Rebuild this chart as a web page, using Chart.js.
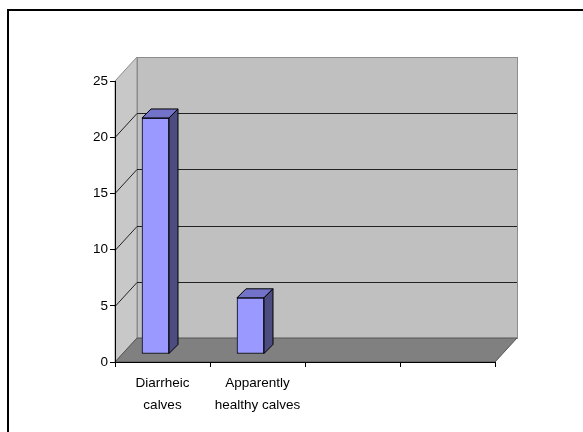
<!DOCTYPE html>
<html>
<head>
<meta charset="utf-8">
<script src="https://cdn.jsdelivr.net/npm/chart.js@4"></script>
<style>
  body { margin: 0; background: #fff; }
  #wrap { width: 583px; height: 432px; }
</style>
</head>
<body>
<div id="wrap"><canvas id="calves"></canvas></div>
<script>
var categories = [['Diarrheic', 'calves'], ['Apparently', 'healthy calves'], '', ''];
var counts = [21, 5, null, null];
var yTicks = [0, 5, 10, 15, 20, 25];

// depth of the box (back wall offset) and of each bar
var DEPTH_X = 22, DEPTH_Y = -24;
var BAR_DX = -7, BAR_DY = -8;
var BAR_DEPTH = 9;

var labelFont = { family: 'Liberation Sans', size: 13.5, lineHeight: 1.63 };

var box3d = {
  id: 'box3d',
  beforeDraw: function (chart) {
    var c = chart.ctx, x = chart.scales.x, y = chart.scales.y;
    var L = x.left, R = x.right;
    var y0 = y.getPixelForValue(0), yTop = y.getPixelForValue(25);
    c.save();
    c.fillStyle = '#fff';
    c.fillRect(0, 0, chart.width, chart.height);
    // outer frame
    c.strokeStyle = '#000';
    c.lineWidth = 2;
    c.beginPath();
    c.moveTo(8, chart.height);
    c.lineTo(8, 10);
    c.lineTo(chart.width, 10);
    c.stroke();

    // back wall
    c.fillStyle = '#c0c0c0';
    c.fillRect(L + DEPTH_X, yTop + DEPTH_Y, R - L, y0 - yTop);
    c.strokeStyle = '#8c8c8c';
    c.lineWidth = 1;
    c.strokeRect(L + DEPTH_X + 0.5, yTop + DEPTH_Y + 0.5, R - L, y0 - yTop);
    // side wall
    c.fillStyle = '#c8c8c8';
    c.beginPath();
    c.moveTo(L, y0);
    c.lineTo(L, yTop);
    c.lineTo(L + DEPTH_X, yTop + DEPTH_Y);
    c.lineTo(L + DEPTH_X, y0 + DEPTH_Y);
    c.closePath();
    c.fill();
    c.stroke();
    // floor
    c.fillStyle = '#808080';
    c.beginPath();
    c.moveTo(L, y0);
    c.lineTo(R, y0);
    c.lineTo(R + DEPTH_X, y0 + DEPTH_Y);
    c.lineTo(L + DEPTH_X, y0 + DEPTH_Y);
    c.closePath();
    c.fill();
    c.strokeStyle = '#555';
    c.stroke();

    // gridlines on the walls
    c.strokeStyle = '#222';
    yTicks.forEach(function (v) {
      if (v === 0 || v === 25) return;
      var py = Math.round(y.getPixelForValue(v)) + 0.5;
      c.beginPath();
      c.moveTo(L, py);
      c.lineTo(L + DEPTH_X, py + DEPTH_Y);
      c.lineTo(R + DEPTH_X, py + DEPTH_Y);
      c.stroke();
    });
    c.restore();
  },
  beforeDatasetsDraw: function (chart) {
    chart.ctx.save();
    chart.ctx.translate(BAR_DX, BAR_DY);
  },
  afterDatasetsDraw: function (chart) {
    var c = chart.ctx;
    chart.getDatasetMeta(0).data.forEach(function (bar, i) {
      if (counts[i] == null) return;
      var l = bar.x - bar.width / 2, r = bar.x + bar.width / 2;
      var t = bar.y, b = bar.base;
      c.strokeStyle = '#000';
      c.lineWidth = 1;
      c.fillStyle = '#7272c8';
      c.beginPath();
      c.moveTo(l, t);
      c.lineTo(l + BAR_DEPTH, t - BAR_DEPTH);
      c.lineTo(r + BAR_DEPTH, t - BAR_DEPTH);
      c.lineTo(r, t);
      c.closePath();
      c.fill();
      c.stroke();
      c.fillStyle = '#4c4c80';
      c.beginPath();
      c.moveTo(r, t);
      c.lineTo(r + BAR_DEPTH, t - BAR_DEPTH);
      c.lineTo(r + BAR_DEPTH, b - BAR_DEPTH);
      c.lineTo(r, b);
      c.closePath();
      c.fill();
      c.stroke();
    });
    c.restore();
  }
};

new Chart(document.getElementById('calves'), {
  type: 'bar',
  data: {
    labels: categories,
    datasets: [{
      data: counts,
      backgroundColor: '#9999ff',
      borderColor: '#000',
      borderWidth: 1,
      borderSkipped: false,
      barThickness: 27
    }]
  },
  options: {
    responsive: true,
    maintainAspectRatio: false,
    animation: false,
    layout: { padding: { left: 0, right: 88, top: 81, bottom: 0 } },
    plugins: { legend: { display: false }, tooltip: { enabled: false } },
    scales: {
      x: {
        afterFit: function (s) { s.height = 70; },
        grid: { drawOnChartArea: false, tickLength: 5, color: '#000', offset: true },
        border: { color: '#000' },
        ticks: { color: '#000', font: labelFont, maxRotation: 0, autoSkip: false, padding: 5 }
      },
      y: {
        min: 0,
        max: 25,
        afterFit: function (s) { s.width = 115; },
        afterBuildTicks: function (s) { s.ticks = yTicks.map(function (v) { return { value: v }; }); },
        grid: { drawOnChartArea: false, tickLength: 5, color: '#000' },
        border: { color: '#000' },
        ticks: { color: '#000', font: labelFont, padding: 2 }
      }
    }
  },
  plugins: [box3d]
});
</script>
</body>
</html>
